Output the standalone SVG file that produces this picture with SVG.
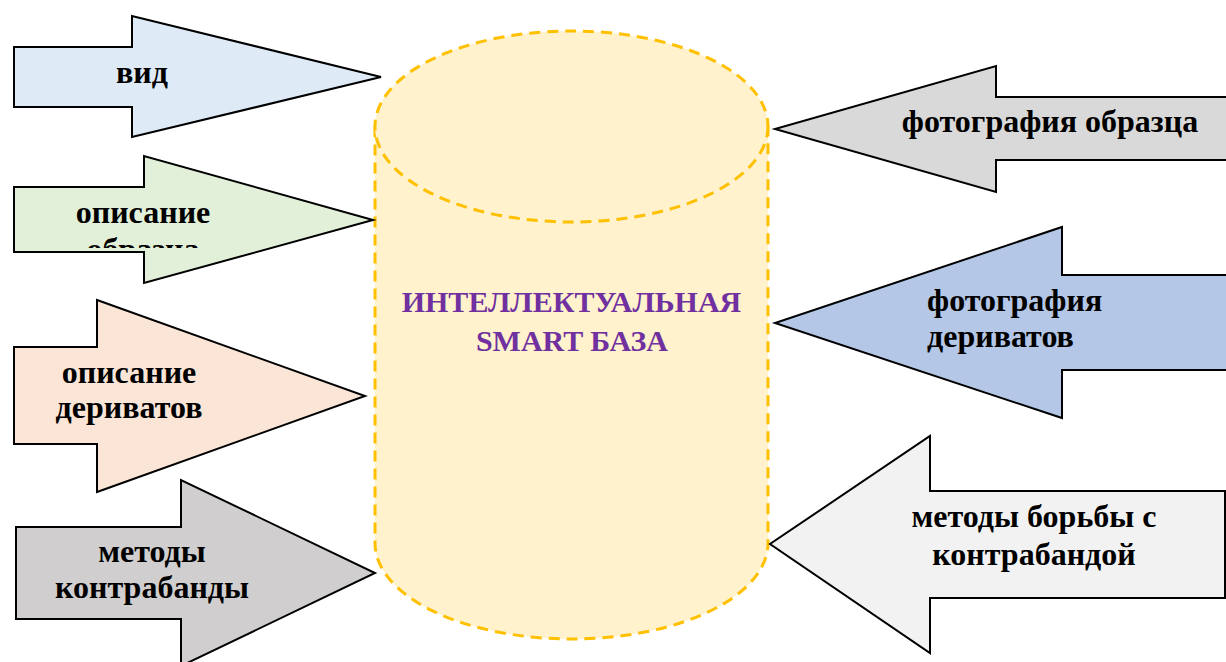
<svg xmlns="http://www.w3.org/2000/svg" width="1226" height="662" viewBox="0 0 1226 662">
<style>
.arr{stroke:#000;stroke-width:2;stroke-linejoin:miter}
.lbl{font-family:"Liberation Serif","Times New Roman",serif;font-weight:bold;font-size:32px;fill:#000}
.c{text-anchor:middle}
.db{fill:#FFF2CC;stroke:#FFC000;stroke-width:3;stroke-dasharray:11 7}
.dbt{font-family:"Liberation Serif","Times New Roman",serif;font-weight:bold;font-size:30px;fill:#7030A0;text-anchor:middle}
</style>
<defs>
<clipPath id="clip2"><rect x="0" y="150" width="380" height="98"/></clipPath>
</defs>
<rect width="1226" height="662" fill="#fff"/>
<g id="database">
<path class="db" d="M375,126.5 L375,543 A196.5,96 0 0 0 768,543 L768,126.5"/>
<ellipse class="db" cx="571.5" cy="126.5" rx="196.5" ry="95.5"/>
<text class="dbt" x="571.5" y="312">ИНТЕЛЛЕКТУАЛЬНАЯ</text>
<text class="dbt" x="572" y="351">SMART БАЗА</text>
</g>
<g id="connectors"></g>
<g id="vid">
<polygon class="arr" fill="#DEEBF7" points="14,47 132,47 132,16 381,77 132,137 132,107 14,107"/>
<text class="lbl c" x="142" y="83">вид</text>
</g>
<g id="opisanie-obrazca">
<polygon class="arr" fill="#E2F0D9" points="14,187 144,187 144,156 373,220 144,283 144,252 14,252"/>
<g clip-path="url(#clip2)">
<text class="lbl c" x="143" y="223">описание</text>
<text class="lbl c" x="143" y="260">образца</text>
</g>
</g>
<g id="opisanie-derivatov">
<polygon class="arr" fill="#FBE5D6" points="14,347 97,347 97,300 365,396 97,492 97,444 14,444"/>
<text class="lbl c" x="129" y="383">описание</text>
<text class="lbl c" x="129" y="418">дериватов</text>
</g>
<g id="metody-kontrabandy">
<polygon class="arr" fill="#D0CECE" points="16,527 181,527 181,480 375,573 181,666 181,619 16,619"/>
<text class="lbl c" x="152" y="562">методы</text>
<text class="lbl c" x="152" y="598">контрабанды</text>
</g>
<g id="foto-obrazca">
<polygon class="arr" fill="#D9D9D9" points="1228,97 996,97 996,66 775,129 996,192 996,160 1228,160"/>
<text class="lbl c" x="1050" y="132">фотография образца</text>
</g>
<g id="foto-derivatov">
<polygon class="arr" fill="#B4C7E7" points="1228,275 1062,275 1062,227 775,323 1062,418 1062,370 1228,370"/>
<text class="lbl" x="927" y="311">фотография</text>
<text class="lbl" x="927" y="347">дериватов</text>
</g>
<g id="metody-borby">
<polygon class="arr" fill="#F2F2F2" points="1225,491 930,491 930,436 770,544 930,653 930,598 1225,598"/>
<text class="lbl c" x="1034" y="527">методы борьбы с</text>
<text class="lbl c" x="1034" y="565">контрабандой</text>
</g>
</svg>
